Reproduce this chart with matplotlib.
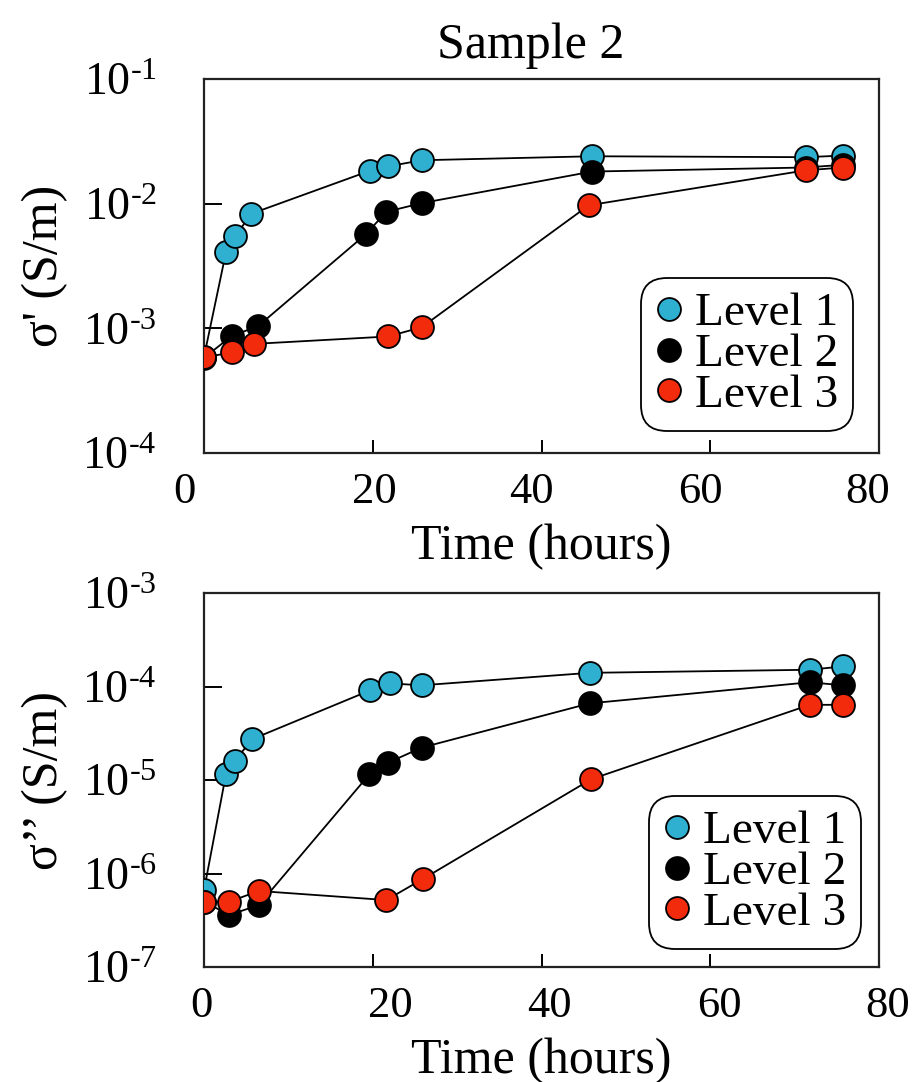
import numpy as np
import matplotlib
matplotlib.use('Agg')
import matplotlib.pyplot as plt
from matplotlib.ticker import FixedLocator, FuncFormatter, NullLocator
from matplotlib.transforms import ScaledTranslation

plt.rcParams['font.family'] = ['Liberation Serif', 'DejaVu Serif']
plt.rcParams['mathtext.fontset'] = 'custom'
plt.rcParams['mathtext.rm'] = 'Liberation Serif'
plt.rcParams['mathtext.it'] = 'Liberation Serif:italic'

# ---- data ----
levels = ['Level 1', 'Level 2', 'Level 3']
colors = ['#2fb0d0', '#000000', '#f22b0c']

# sigma' (real part), top panel
t1_top = [0, 2.6, 3.7, 5.6, 19.7, 21.8, 25.8, 46.0, 71.3, 75.7]
s1_top = [5.9e-4, 4.07e-3, 5.47e-3, 8.3e-3, 1.84e-2, 1.99e-2, 2.23e-2, 2.40e-2, 2.36e-2, 2.43e-2]
t2_top = [0, 3.3, 6.4, 19.2, 21.6, 25.8, 46.0, 71.3, 75.7]
s2_top = [5.8e-4, 8.7e-4, 1.04e-3, 5.7e-3, 8.6e-3, 1.01e-2, 1.81e-2, 1.95e-2, 2.05e-2]
t3_top = [0, 3.3, 5.9, 21.8, 25.8, 45.6, 71.3, 75.7]
s3_top = [5.85e-4, 6.4e-4, 7.5e-4, 8.6e-4, 1.02e-3, 9.7e-3, 1.85e-2, 1.95e-2]

# sigma'' (imaginary part), bottom panel
t1_bot = [0, 2.6, 3.65, 5.7, 19.7, 22.0, 25.8, 45.7, 71.8, 75.7]
s1_bot = [6.6e-7, 1.15e-5, 1.6e-5, 2.73e-5, 9.1e-5, 1.08e-4, 1.03e-4, 1.40e-4, 1.51e-4, 1.64e-4]
t2_bot = [0, 3.0, 6.5, 19.6, 21.8, 25.8, 45.7, 71.8, 75.7]
s2_bot = [5.0e-7, 3.6e-7, 4.6e-7, 1.15e-5, 1.53e-5, 2.22e-5, 6.6e-5, 1.11e-4, 1.03e-4]
t3_bot = [0, 3.0, 6.5, 21.6, 26.0, 45.9, 71.8, 75.7]
s3_bot = [5.0e-7, 5.0e-7, 6.5e-7, 5.2e-7, 8.8e-7, 1.02e-5, 6.37e-5, 6.37e-5]

xticks = [0, 20, 40, 60, 80]

W, H = 917, 1082
fig = plt.figure(figsize=(W / 100, H / 100), dpi=100)

def box(l, r, t, b):
    return [l / W, 1 - b / H, (r - l) / W, (b - t) / H]

ax_top = fig.add_axes(box(204, 879, 79, 453))
ax_bot = fig.add_axes(box(204, 879, 593, 967))

def sup_fmt(v, pos):
    e = int(round(np.log10(v)))
    # short hyphen in the exponent, like the original
    return '$10^{\u2010%d}$' % abs(e)

def style(ax, ylo, yhi, ylabel, shifts):
    ax.set_yscale('log')
    ax.set_xlim(0, 80)
    ax.set_ylim(ylo, yhi)
    ax.xaxis.set_major_locator(FixedLocator(xticks))
    ax.yaxis.set_major_locator(FixedLocator([10.0 ** k for k in range(int(np.log10(ylo)), int(np.log10(yhi)) + 1)]))
    ax.yaxis.set_minor_locator(NullLocator())
    ax.yaxis.set_major_formatter(FuncFormatter(sup_fmt))
    ax.tick_params(axis='x', direction='in', length=9.5, width=1.4, labelsize=32, pad=14)
    ax.tick_params(axis='y', direction='in', length=13, width=1.4, labelsize=33, pad=34)
    ax.tick_params(top=False, right=False)
    for sp in ax.spines.values():
        sp.set_linewidth(1.6)
        sp.set_color('#222222')
    ax.set_xlabel('Time (hours)', fontsize=36, labelpad=8)
    ax.set_ylabel(ylabel, fontsize=36, labelpad=10)
    # the tick labels in the original sit a little off their ticks
    for lab, dx in zip(ax.xaxis.get_majorticklabels(), shifts):
        lab.set_transform(lab.get_transform() + ScaledTranslation(dx / 100, 0, fig.dpi_scale_trans))

def draw(ax, ts, ss):
    handles = []
    for t, s, c, name in zip(ts, ss, colors, levels):
        ax.plot(t, s, '-', color='black', lw=1.3, zorder=2)
        h, = ax.plot(t, s, 'o', ms=16.5, mfc=c, mec='black', mew=1.3, zorder=3, label=name)
        handles.append(h)
    return handles

def add_legend(ax, h, anchor):
    leg = ax.legend(handles=h, loc='lower right', bbox_to_anchor=anchor,
                    fontsize=34, handlelength=0.6, handletextpad=0.25, labelspacing=-0.05,
                    borderpad=0.3, borderaxespad=0, frameon=True, fancybox=True)
    leg.get_frame().set_edgecolor('black')
    leg.get_frame().set_linewidth(1.3)
    leg.get_frame().set_alpha(1)
    leg.get_frame().set_boxstyle('round,pad=0.0,rounding_size=0.55')
    return leg

h = draw(ax_top, [t1_top, t2_top, t3_top], [s1_top, s2_top, s3_top])
style(ax_top, 1e-4, 1e-1, "σ' (S/m)", [-20, 2, -10, -10, -11])
add_legend(ax_top, h, (0.961, 0.059))

h = draw(ax_bot, [t1_bot, t2_bot, t3_bot], [s1_bot, s2_bot, s3_bot])
style(ax_bot, 1e-7, 1e-3, "σ’’ (S/m)", [-3, 18, 8, 9, 9])
add_legend(ax_bot, h, (0.973, 0.048))

fig.text(531 / W, 1 - 58 / H, 'Sample 2', fontsize=36, ha='center', va='baseline')

fig.savefig('out.png', dpi=100)
